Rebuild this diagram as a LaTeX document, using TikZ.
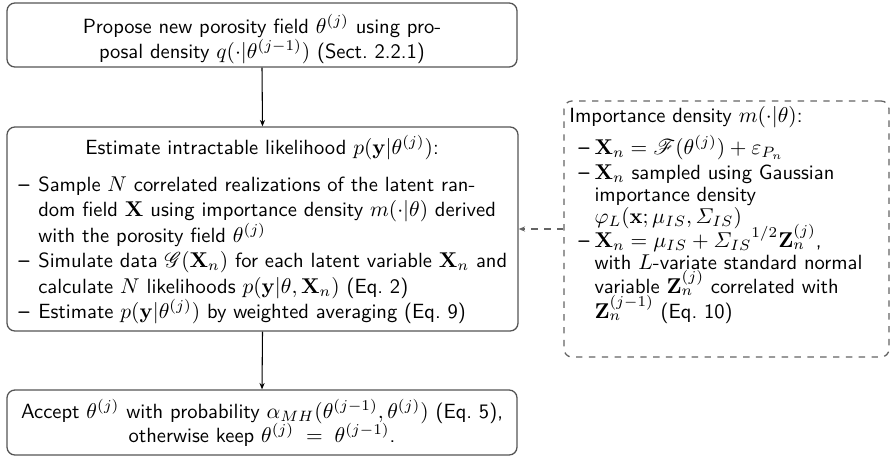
\documentclass[tikz,border=0pt]{standalone}
\usepackage{amsmath,amssymb}
\usepackage{mathrsfs}
\usetikzlibrary{arrows.meta}
\newcommand\dshL{\makebox[9.3pt][l]{\textbf{--}}}
\newcommand\indL{\hspace*{9.3pt}}
\newcommand\dshR{\makebox[7.5pt][l]{\textbf{--}}}
\newcommand\indR{\hspace*{7.5pt}}
\definecolor{boxgray}{RGB}{85,85,85}
\definecolor{dashgray}{RGB}{100,100,100}
\begin{document}
\begin{tikzpicture}[x=0.467pt,y=-0.467pt,
  box/.style={draw=boxgray,line width=0.6pt,rounded corners=3.7pt,inner sep=0pt},
  dbox/.style={draw=dashgray,line width=0.6pt,dashed,rounded corners=3.7pt,inner sep=0pt},
  txt/.style={inner sep=0pt,font=\sffamily\fontsize{9.6}{12}\selectfont},
  ctr/.style={txt,anchor=base},
  lft/.style={txt,anchor=base west},
  flow/.style={draw=black,line width=0.5pt,-{Stealth[length=3pt,width=2.4pt]}},
  dflow/.style={draw=dashgray,line width=0.6pt,dashed,-{Stealth[length=3pt,width=2.4pt]}}]
\useasboundingbox (0,0) rectangle (890,457);
% boxes
\node[box,minimum width={510*0.467pt},minimum height={64*0.467pt}] (top) at (262,35) {};
\node[box,minimum width={511*0.467pt},minimum height={204*0.467pt}] (mid) at (262.5,229) {};
\node[box,minimum width={510*0.467pt},minimum height={65*0.467pt}] (bot) at (262,422.5) {};
\node[dbox,minimum width={325*0.467pt},minimum height={256*0.467pt}] (imp) at (726.5,229) {};
% top box text
\node[ctr] (t1) at (262,33) {Propose new porosity field $\theta^{(j)}$ using pro-};
\node[ctr] (t2) at (262,58) {posal density $q(\cdot|\theta^{(j-1)})$ (Sect.~2.2.1)};
% middle box text
\node[ctr] (m0) at (262,154) {Estimate intractable likelihood $p(\mathbf{y}|\theta^{(j)})$:};
\node[lft] (m1) at (18,191)   {\dshL Sample $N$ correlated realizations of the latent ran-};
\node[lft] (m2) at (18,216.5) {\indL dom field $\mathbf{X}$ using importance density $m(\cdot|\theta)$ derived};
\node[lft] (m3) at (18,242)   {\indL with the porosity field $\theta^{(j)}$};
\node[lft] (m4) at (18,267.5) {\dshL Simulate data $\mathscr{G}(\mathbf{X}_n)$ for each latent variable $\mathbf{X}_n$ and};
\node[lft] (m5) at (18,293)   {\indL calculate $N$ likelihoods $p(\mathbf{y}|\theta,\mathbf{X}_n)$ (Eq.~2)};
\node[lft] (m6) at (18,318.5) {\dshL Estimate $p(\mathbf{y}|\theta^{(j)})$ by weighted averaging (Eq.~9)};
% bottom box text
\node[ctr] (b1) at (262,418) {Accept $\theta^{(j)}$ with probability $\alpha_{MH}(\theta^{(j-1)},\theta^{(j)})$ (Eq.~5),};
\node[ctr] (b2) at (262,442) {otherwise keep $\theta^{(j)}\;=\;\theta^{(j-1)}$.};
% importance density box text
\node[lft] (i0) at (569,122) {Importance density $m(\cdot|\theta)$:};
\node[lft] (i1) at (578,154) {\dshR $\mathbf{X}_n=\mathscr{F}(\theta^{(j)})+\varepsilon_{P_n}$};
\node[lft] (i2) at (578,179) {\dshR $\mathbf{X}_n$ sampled using Gaussian};
\node[lft] (i3) at (578,201) {\indR importance density};
\node[lft] (i4) at (578,223) {\indR $\varphi_L(\mathbf{x};\mu_{IS},\varSigma_{IS})$};
\node[lft] (i5) at (578,247) {\dshR $\mathbf{X}_n=\mu_{IS}+{\varSigma_{IS}}^{1/2}\mathbf{Z}_n^{(j)}$,};
\node[lft] (i6) at (578,269) {\indR with $L$-variate standard normal};
\node[lft] (i7) at (578,293) {\indR variable $\mathbf{Z}_n^{(j)}$ correlated with};
\node[lft] (i8) at (578,318) {\indR $\mathbf{Z}_n^{(j-1)}$ (Eq.~10)};
% connectors
\draw[flow] (top.south) -- (mid.north);
\draw[flow] (mid.south) -- (bot.north);
\draw[dflow] (imp.west) -- (mid.east);
\end{tikzpicture}
\end{document}
